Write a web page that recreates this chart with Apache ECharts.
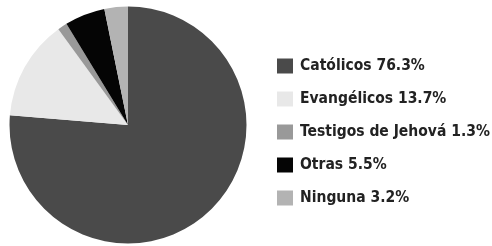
<!DOCTYPE html>
<html><head><meta charset="utf-8">
<script src="https://cdn.jsdelivr.net/npm/echarts@6/dist/echarts.min.js"></script>
<style>html,body{margin:0;padding:0;background:#fff}#c{width:492px;height:246px}</style>
</head><body><div id="c"></div>
<script>
var categories = ['Católicos', 'Evangélicos', 'Testigos de Jehová', 'Otras', 'Ninguna'];
var values = [76.3, 13.7, 1.3, 5.5, 3.2];
var colors = ['#4a4a4a', '#e8e8e8', '#999999', '#050505', '#b3b3b3'];

var chart = echarts.init(document.getElementById('c'), null, {renderer: 'canvas'});
var data = categories.map(function (n, i) { return {name: n, value: values[i], itemStyle: {color: colors[i]}}; });
chart.setOption({
  animation: false,
  legend: {
    orient: 'vertical', left: 272, top: 53,
    itemWidth: 16, itemHeight: 15, itemGap: 17,
    icon: 'rect',
    formatter: function (name) { return name + ' ' + values[categories.indexOf(name)].toFixed(1) + '%'; },
    textStyle: {fontFamily: 'DejaVu Sans Condensed', fontWeight: 'bold', fontSize: 15.5, color: '#222', padding: [0, 0, 0, 2]}
  },
  series: [{
    type: 'pie', center: [128, 125], radius: 118.5, startAngle: 90, clockwise: true,
    label: {show: false}, labelLine: {show: false},
    itemStyle: {borderWidth: 0},
    data: data
  }]
});
</script></body></html>
